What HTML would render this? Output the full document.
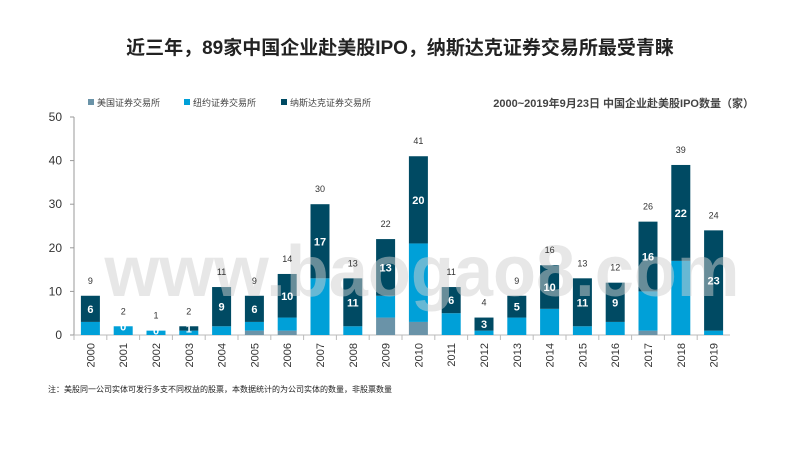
<!DOCTYPE html>
<html><head><meta charset="utf-8"><style>
body{margin:0;width:800px;height:450px;background:#fff;overflow:hidden;font-family:"Liberation Sans","Noto Sans CJK SC",sans-serif}
</style></head><body>
<svg width="800" height="450" font-family="Liberation Sans, Noto Sans CJK SC, sans-serif">
<text x="400" y="54" text-anchor="middle" font-size="19" font-weight="bold" fill="#222">近三年，89家中国企业赴美股IPO，纳斯达克证券交易所最受青睐</text>
<g font-size="9" fill="#444">
<rect x="88" y="99" width="6" height="6" fill="#6a93a8"/><text x="97" y="106">美国证券交易所</text>
<rect x="184" y="99" width="6" height="6" fill="#00a0d8"/><text x="193" y="106">纽约证券交易所</text>
<rect x="281" y="99" width="6" height="6" fill="#004a63"/><text x="290" y="106">纳斯达克证券交易所</text>
</g>
<text x="754" y="107" text-anchor="end" font-size="11" font-weight="bold" fill="#444">2000~2019年9月23日  中国企业赴美股IPO数量（家）</text>
<g id="axes"></g>
<g id="bars"></g>
<text x="422" y="296" text-anchor="middle" font-size="72" font-weight="bold" fill="#d0d0d0" fill-opacity="0.5" textLength="635" lengthAdjust="spacingAndGlyphs">www.baogao8.com</text>
<g id="labels"></g>
<text x="48" y="392" font-size="8" fill="#222">注：美股同一公司实体可发行多支不同权益的股票，本数据统计的为公司实体的数量，非股票数量</text>
</svg>
<script>
const years=["2000","2001","2002","2003","2004","2005","2006","2007","2008","2009","2010","2011","2012","2013","2014","2015","2016","2017","2018","2019"];
const amex=[0,0,0,0,0,1,1,0,0,4,3,0,0,0,0,0,0,1,0,0];
const nyse=[3,2,1,1,2,2,3,13,2,5,18,5,1,4,6,2,3,9,17,1];
const nasdaq=[6,0,0,1,9,6,10,17,11,13,20,6,3,5,10,11,9,16,22,23];
const yTicks=[0,10,20,30,40,50];
const NS="http://www.w3.org/2000/svg";
const y0=335,yTop=117,yMax=50,x0=74,step=32.8,bw=19;
const y=v=>y0-(y0-yTop)*v/yMax;
const xc=i=>x0+step*(i+0.5);
function mk(tag,attrs,parent,txt){const e=document.createElementNS(NS,tag);for(const k in attrs)e.setAttribute(k,attrs[k]);if(txt!==undefined)e.textContent=txt;parent.appendChild(e);return e;}
const ax=document.getElementById('axes'),bars=document.getElementById('bars'),lab=document.getElementById('labels');
let l=mk('line',{x1:x0,y1:yTop,x2:x0,y2:y0,stroke:'#999'},ax);


l=mk('line',{x1:x0,y1:y0,x2:x0+step*years.length,y2:y0,stroke:'#bbb'},ax);


yTicks.forEach(t=>{
 mk('line',{x1:x0-4,y1:y(t),x2:x0,y2:y(t),stroke:'#999'},ax);
 const tx=mk('text',{x:x0-12,y:y(t)+4,'text-anchor':'end','font-size':12,fill:'#333'},ax,t);
 
 
});
years.forEach((yr,i)=>{
 const cx=xc(i);
 mk('line',{x1:x0+step*i,y1:y0,x2:x0+step*i,y2:y0+5,stroke:'#bbb'},ax);
 const tx=mk('text',{x:0,y:0,'text-anchor':'end','font-size':11,fill:'#333',transform:`translate(${cx+4},${y0+8}) rotate(-90)`},ax,yr);
 
 
 let base=0;
 [[amex[i],'#6a93a8','bar-amex'],[nyse[i],'#00a0d8','bar-nyse'],[nasdaq[i],'#004a63','bar-nasdaq']].forEach(([v,c,n])=>{
  if(v>0){const r=mk('rect',{x:cx-bw/2,y:y(base+v),width:bw,height:y(base)-y(base+v),fill:c},bars);
  
  }
  base+=v;
 });
 const nb=amex[i]+nyse[i];
 const sl=mk('text',{x:cx,y:y(nb+nasdaq[i]/2)+4,'text-anchor':'middle','font-size':11,'font-weight':'bold',fill:'#fff'},lab,nasdaq[i]);
 
 
 const tl=mk('text',{x:cx,y:y(base)-12,'text-anchor':'middle','font-size':9,fill:'#333'},lab,base);
 
 
});
</script>
</body></html>
